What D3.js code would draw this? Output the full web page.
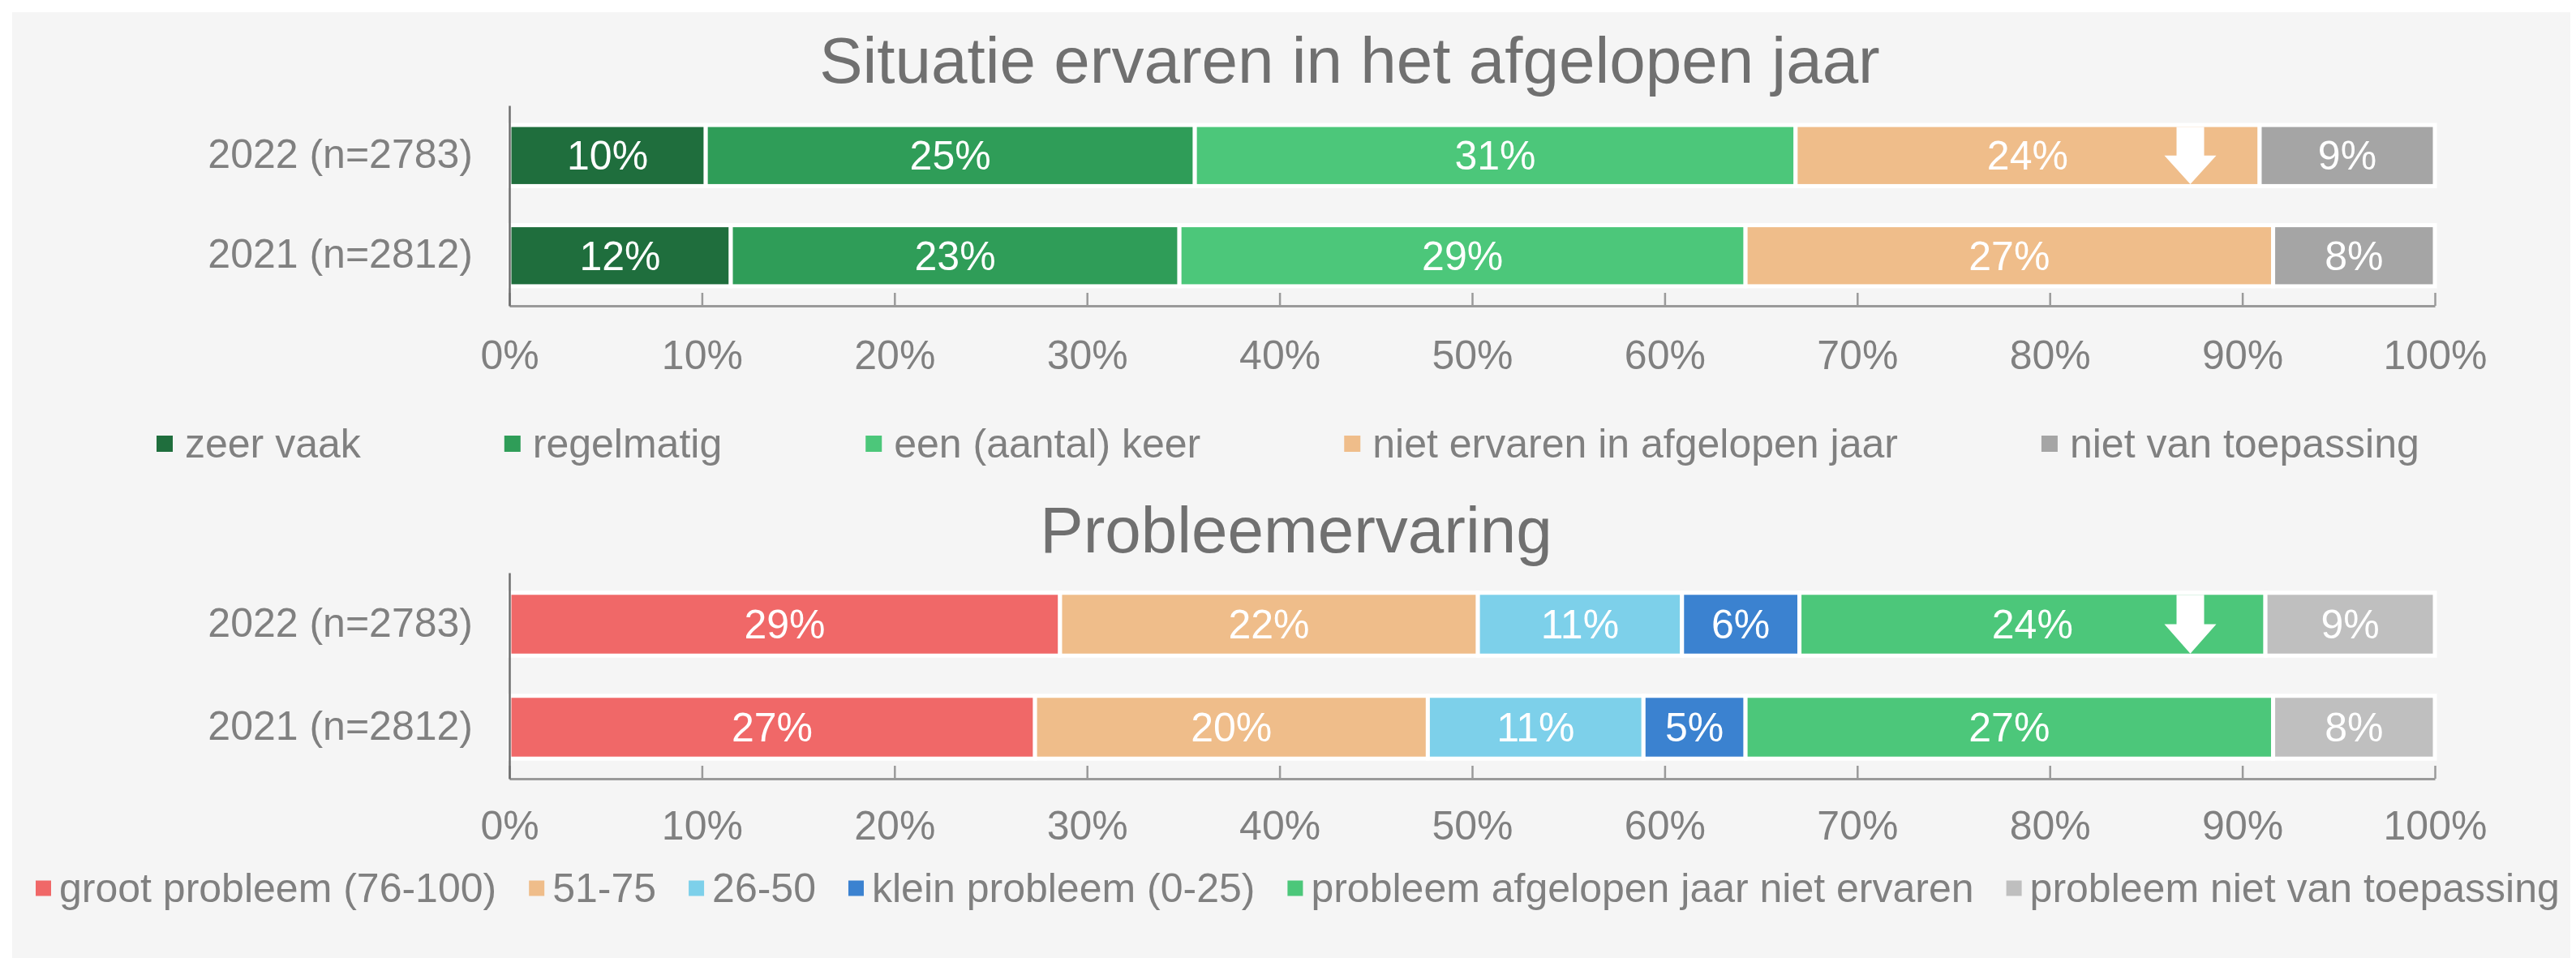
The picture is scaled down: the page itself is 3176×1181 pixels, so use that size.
<!DOCTYPE html>
<html>
<head>
<meta charset="utf-8">
<script src="https://cdn.jsdelivr.net/npm/d3@7"></script>
<style>
  html, body { margin: 0; padding: 0; background: #fff; }
  svg { display: block; font-family: "Liberation Sans", Arial, sans-serif; }
</style>
</head>
<body>
<div id="chart"></div>
<script>
// rows of both panels
var years = ["2022 (n=2783)", "2021 (n=2812)"];

// panel 1: situatie ervaren
var situatieCategories = ["zeer vaak", "regelmatig", "een (aantal) keer",
                          "niet ervaren in afgelopen jaar", "niet van toepassing"];
var situatie2022 = [10.2, 25.4, 31.2, 24.1, 9.1];
var situatie2021 = [11.5, 23.3, 29.4, 27.4, 8.4];
var situatieColors = ["#1f6e3d", "#2f9d58", "#4cc77a", "#efbd8a", "#a5a5a5"];

// panel 2: probleemervaring
var probleemCategories = ["groot probleem (76-100)", "51-75", "26-50", "klein probleem (0-25)",
                          "probleem afgelopen jaar niet ervaren", "probleem niet van toepassing"];
var probleem2022 = [28.6, 21.7, 10.6, 6.1, 24.2, 8.8];
var probleem2021 = [27.3, 20.4, 11.2, 5.3, 27.4, 8.4];
var probleemColors = ["#f06868", "#efbd8a", "#7dd0ea", "#3b82d0", "#4cc77a", "#bfbfbf"];

var percentTicks = [0, 10, 20, 30, 40, 50, 60, 70, 80, 90, 100];

// white arrows = significant decrease compared to last year
var decreaseMarks = [
  { panel: 0, year: "2022 (n=2783)", at: 87.3 },
  { panel: 1, year: "2022 (n=2783)", at: 87.3 }
];

var width = 3176, height = 1181;
var textGrey = "#808080";

var panels = [
  { title: "Situatie ervaren in het afgelopen jaar", categories: situatieCategories,
    values: [situatie2022, situatie2021], colors: situatieColors,
    titleX: 1664, titleY: 102, top: 130, bottom: 377,
    legendX: 193, legendY: 547, swatch: 20, textOffset: 35, legendGap: 177 },
  { title: "Probleemervaring", categories: probleemCategories,
    values: [probleem2022, probleem2021], colors: probleemColors,
    titleX: 1598, titleY: 681, top: 706, bottom: 960,
    legendX: 44, legendY: 1095, swatch: 19, textOffset: 29, legendGap: 40 }
];

var svg = d3.select("#chart").append("svg")
    .attr("width", width)
    .attr("height", height);

svg.append("rect")
    .attr("x", 15).attr("y", 15)
    .attr("width", 3154).attr("height", height - 15)
    .attr("fill", "#f5f5f5");

var x = d3.scaleLinear().domain([0, 100]).range([628, 3002]);

panels.forEach(function(p, pi) {
  var g = svg.append("g");

  var y = d3.scaleBand()
      .domain(years)
      .range([p.top, p.bottom])
      .paddingInner(0.39)
      .paddingOuter(0.195);

  var color = d3.scaleOrdinal().domain(p.categories).range(p.colors);

  var rows = years.map(function(yr, i) {
    var r = { year: yr };
    p.categories.forEach(function(c, j) { r[c] = p.values[i][j]; });
    return r;
  });
  var series = d3.stack().keys(p.categories)(rows);

  // title
  g.append("text")
      .attr("x", p.titleX)
      .attr("y", p.titleY)
      .attr("text-anchor", "middle")
      .attr("font-size", 80)
      .attr("fill", "#707070")
      .text(p.title);

  // bars
  var layer = g.selectAll(".layer")
    .data(series)
    .enter().append("g")
      .attr("class", "layer")
      .attr("fill", function(d) { return color(d.key); });

  layer.selectAll("rect")
    .data(function(d) { return d; })
    .enter().append("rect")
      .attr("x", function(d) { return x(d[0]); })
      .attr("y", function(d) { return y(d.data.year); })
      .attr("width", function(d) { return x(d[1]) - x(d[0]); })
      .attr("height", y.bandwidth())
      .attr("stroke", "#fff")
      .attr("stroke-width", 5);

  layer.selectAll("text")
    .data(function(d) { return d; })
    .enter().append("text")
      .attr("x", function(d) { return (x(d[0]) + x(d[1])) / 2; })
      .attr("y", function(d) { return y(d.data.year) + y.bandwidth() / 2; })
      .attr("dy", "0.35em")
      .attr("text-anchor", "middle")
      .attr("font-size", 50)
      .attr("fill", "#fff")
      .text(function(d) { return Math.round(d[1] - d[0]) + "%"; });

  // decrease arrows
  decreaseMarks.filter(function(m) { return m.panel === pi; }).forEach(function(m) {
    var cx = x(m.at), t = y(m.year) + 2.5, b = y(m.year) + y.bandwidth() - 2.5;
    var mid = (t + b) / 2;
    g.append("path")
        .attr("d", "M" + (cx - 17) + "," + t + "H" + (cx + 17) + "V" + mid +
                   "H" + (cx + 32) + "L" + cx + "," + b + "L" + (cx - 32) + "," + mid +
                   "H" + (cx - 17) + "Z")
        .attr("fill", "#fff");
  });

  // x axis, ticks pointing up
  var xAxis = g.append("g")
      .attr("transform", "translate(0," + p.bottom + ")")
      .call(d3.axisBottom(x)
        .tickValues(percentTicks)
        .tickFormat(function(d) { return d + "%"; })
        .tickSizeInner(-16)
        .tickSizeOuter(0)
        .tickPadding(pi === 0 ? 42 : 39));
  xAxis.select(".domain").attr("stroke", "#9a9a9a").attr("stroke-width", 3);
  xAxis.selectAll(".tick line").attr("stroke", "#9a9a9a").attr("stroke-width", 2.5);
  xAxis.selectAll(".tick text")
      .attr("font-size", 50)
      .attr("font-family", "Liberation Sans, Arial, sans-serif")
      .attr("fill", textGrey);

  // y axis
  var yAxis = g.append("g")
      .attr("transform", "translate(" + x(0) + ",0)")
      .call(d3.axisLeft(y).tickSize(0).tickSizeOuter(0).tickPadding(45));
  yAxis.select(".domain").attr("stroke", "#6e6e6e").attr("stroke-width", 2.5);
  yAxis.selectAll(".tick text")
      .attr("font-size", 50)
      .attr("font-family", "Liberation Sans, Arial, sans-serif")
      .attr("dy", "0.3em")
      .attr("fill", textGrey);

  // legend, laid out left to right
  var lx = p.legendX;
  p.categories.forEach(function(c) {
    var item = g.append("g").attr("transform", "translate(" + lx + "," + p.legendY + ")");
    item.append("rect")
        .attr("x", 0)
        .attr("y", -p.swatch / 2)
        .attr("width", p.swatch)
        .attr("height", p.swatch)
        .attr("fill", color(c));
    var t = item.append("text")
        .attr("x", p.textOffset)
        .attr("dy", "0.33em")
        .attr("font-size", 50)
        .attr("fill", textGrey)
        .text(c);
    lx += p.textOffset + t.node().getComputedTextLength() + p.legendGap;
  });
});
</script>
</body>
</html>
